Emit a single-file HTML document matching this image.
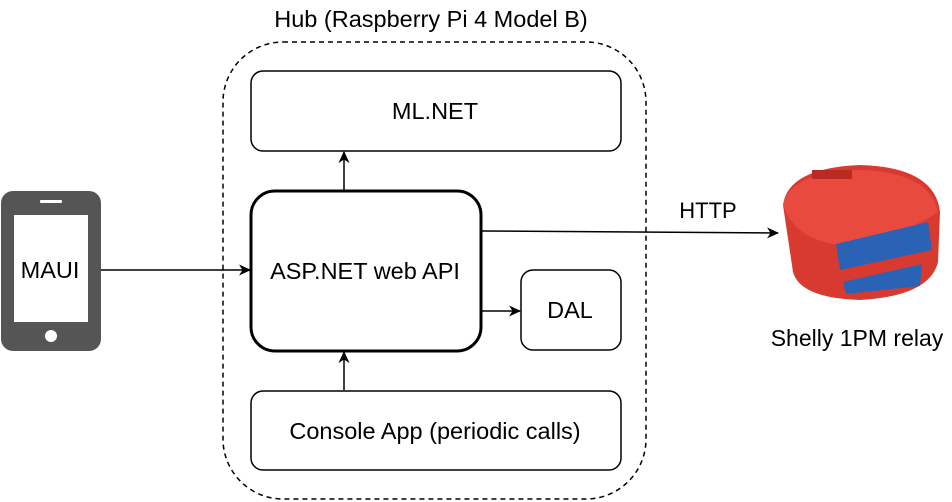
<!DOCTYPE html>
<html><head><style>body{margin:0;background:#fff}svg{display:block}text{font-family:"Liberation Sans",sans-serif;fill:#000}</style></head>
<body>
<svg width="952" height="502" viewBox="0 0 952 502" xmlns="http://www.w3.org/2000/svg">
<defs><marker id="a" markerWidth="12" markerHeight="12" refX="11" refY="6" orient="auto" markerUnits="userSpaceOnUse"><path d="M0,0.5 L12,6 L0,11.5 L3.5,6 z" fill="#000"/></marker></defs>
<rect x="223" y="42" width="423" height="457" rx="60" fill="none" stroke="#000" stroke-width="1.5" stroke-dasharray="5,4"/>
<text x="431" y="27" font-size="23.5" text-anchor="middle">Hub (Raspberry Pi 4 Model B)</text>
<rect x="251" y="71" width="370" height="80" rx="12" fill="#fff" stroke="#000" stroke-width="1.5"/>
<text x="435" y="119" font-size="23.5" text-anchor="middle">ML.NET</text>
<rect x="251" y="191" width="230" height="160" rx="24" fill="#fff" stroke="#000" stroke-width="3"/>
<text x="365" y="279" font-size="23.5" text-anchor="middle">ASP.NET web API</text>
<rect x="521" y="270" width="100" height="80" rx="12" fill="#fff" stroke="#000" stroke-width="1.5"/>
<text x="570" y="318" font-size="23.5" text-anchor="middle">DAL</text>
<rect x="251" y="391" width="370" height="79" rx="12" fill="#fff" stroke="#000" stroke-width="1.5"/>
<text x="435" y="439" font-size="23.5" text-anchor="middle">Console App (periodic calls)</text>
<line x1="344" y1="190" x2="344" y2="152" stroke="#000" stroke-width="1.5" marker-end="url(#a)"/>
<line x1="344" y1="390" x2="344" y2="352" stroke="#000" stroke-width="1.5" marker-end="url(#a)"/>
<line x1="482" y1="311" x2="520" y2="311" stroke="#000" stroke-width="1.5" marker-end="url(#a)"/>
<line x1="101" y1="270" x2="250" y2="270" stroke="#000" stroke-width="1.5" marker-end="url(#a)"/>
<line x1="482" y1="231" x2="778" y2="233" stroke="#000" stroke-width="1.5" marker-end="url(#a)"/>
<text x="708" y="218" font-size="22" text-anchor="middle">HTTP</text>
<rect x="1" y="191" width="100" height="160" rx="12" fill="#555"/>
<rect x="14" y="215" width="74" height="107" fill="#fff"/>
<rect x="40" y="200" width="22" height="3" rx="1" fill="#fff"/>
<circle cx="51" cy="336" r="6" fill="#fff"/>
<text x="50" y="278" font-size="23.5" text-anchor="middle">MAUI</text>
<g>
<path d="M783,205 Q788,168 860,165 Q935,167 940,212 L938,262 Q930,296 860,300 Q800,298 793,272 Z" fill="#d93a30"/>
<path d="M783,205 Q790,172 860,170 Q930,172 938,212 Q900,238 840,245 Q795,240 783,205 Z" fill="#e94a3e"/>
<rect x="812" y="170" width="40" height="9" fill="#b92a22"/>
<path d="M836,244 L928,222 L932,250 L840,270 Z" fill="#2a63b5"/>
<path d="M843,282 L922,264 L920,286 L846,294 Z" fill="#2a63b5"/>
</g>
<text x="857" y="346" font-size="23" text-anchor="middle">Shelly 1PM relay</text>
</svg>
</body></html>
